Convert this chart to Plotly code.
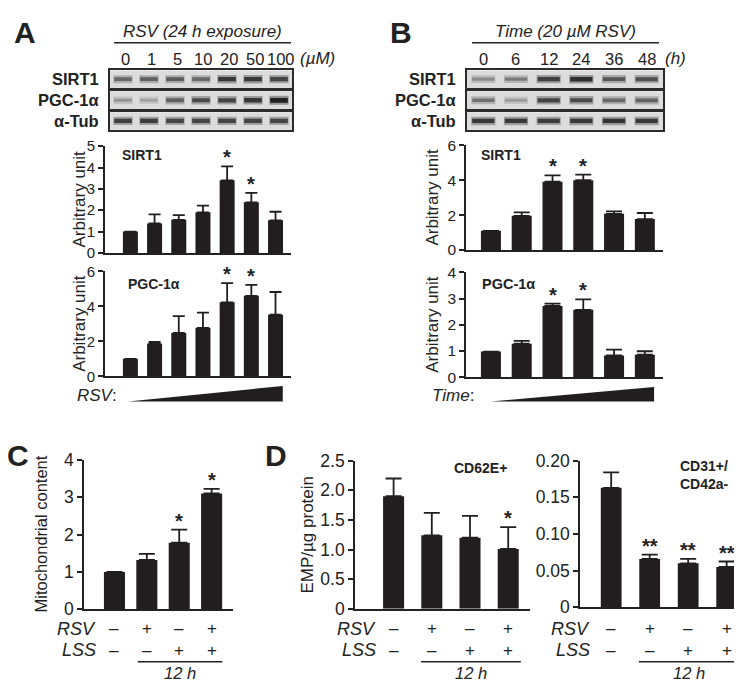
import plotly.graph_objects as go

W, H = 742, 687
FONT = "Arial, 'Liberation Sans', Helvetica, sans-serif"
BAR = "#221e1f"
INK = "#222222"


def px(x):
    return x / W


def py(y):
    return 1 - y / H


# ---------------- data ----------------
a_doses = ["0", "1", "5", "10", "20", "50", "100"]
a_sirt1 = [1.0, 1.38, 1.55, 1.9, 3.4, 2.37, 1.53]
a_sirt1_err = [0, 0.43, 0.22, 0.32, 0.65, 0.44, 0.4]
a_sirt1_sig = ["", "", "", "", "*", "*", ""]
a_pgc = [1.0, 1.87, 2.48, 2.77, 4.23, 4.6, 3.52]
a_pgc_err = [0, 0.1, 0.96, 0.87, 1.1, 0.63, 1.3]
a_pgc_sig = ["", "", "", "", "*", "*", ""]

b_times = ["0", "6", "12", "24", "36", "48"]
b_sirt1 = [1.1, 1.96, 3.91, 4.0, 2.07, 1.77]
b_sirt1_err = [0, 0.2, 0.36, 0.32, 0.14, 0.35]
b_sirt1_sig = ["", "", "*", "*", "", ""]
b_pgc = [0.98, 1.28, 2.72, 2.57, 0.83, 0.86]
b_pgc_err = [0, 0.11, 0.09, 0.4, 0.22, 0.13]
b_pgc_sig = ["", "", "*", "*", "", ""]

c_mito = [1.0, 1.32, 1.78, 3.1]
c_mito_err = [0, 0.16, 0.35, 0.12]
c_sig = ["", "", "*", "*"]

d_cd62e = [1.9, 1.24, 1.2, 1.01]
d_cd62e_err = [0.3, 0.38, 0.37, 0.37]
d_cd62e_sig = ["", "", "", "*"]
d_cd31 = [0.163, 0.066, 0.060, 0.055]
d_cd31_err = [0.021, 0.006, 0.006, 0.0075]
d_cd31_sig = ["", "**", "**", "**"]

rsv_row = ["–", "+", "–", "+"]
lss_row = ["–", "–", "+", "+"]

# western blot band intensities (0 = none, 1 = darkest), read by eye
a_blot_rows = ["SIRT1", "PGC-1α", "α-Tub"]
a_blot = [
    [0.55, 0.6, 0.62, 0.55, 0.82, 0.82, 0.75],
    [0.3, 0.22, 0.6, 0.72, 0.75, 0.82, 0.95],
    [0.78, 0.8, 0.75, 0.75, 0.75, 0.75, 0.75],
]
b_blot_rows = ["SIRT1", "PGC-1α", "α-Tub"]
b_blot = [
    [0.35, 0.45, 0.78, 0.88, 0.65, 0.68],
    [0.5, 0.25, 0.75, 0.72, 0.55, 0.58],
    [0.82, 0.82, 0.8, 0.82, 0.85, 0.82],
]

fig = go.Figure()
layout = {}
annotations = []
shapes = []
counter = [0]


def new_axes(xl, xr, yt, yb, xrange, yrange, xkw=None, ykw=None):
    counter[0] += 1
    k = counter[0]
    sx = "" if k == 1 else str(k)
    xa = dict(domain=[px(xl), px(xr)], range=xrange, anchor="y" + sx,
              showgrid=False, zeroline=False, fixedrange=True)
    ya = dict(domain=[py(yb), py(yt)], range=yrange, anchor="x" + sx,
              showgrid=False, zeroline=False, fixedrange=True)
    if xkw:
        xa.update(xkw)
    if ykw:
        ya.update(ykw)
    layout["xaxis" + sx] = xa
    layout["yaxis" + sx] = ya
    return "x" + sx, "y" + sx


def blot_row(xl, xr, yt, yb, intens):
    n = len(intens)
    xr_, yr_ = new_axes(
        xl, xr, yt, yb, [-0.5, n - 0.5], [0, 1],
        xkw=dict(showline=True, mirror=True, linewidth=2, linecolor="#2b2b2b",
                 showticklabels=False, ticks=""),
        ykw=dict(showline=True, mirror=True, linewidth=2, linecolor="#2b2b2b",
                 showticklabels=False, ticks=""))
    shapes.append(dict(type="rect", xref=xr_ + " domain", yref=yr_ + " domain",
                       x0=0, x1=1, y0=0, y1=1, fillcolor="#dcdcdc",
                       line=dict(width=0), layer="below"))
    halo_c = ["rgb({0},{0},{0})".format(int(214 - 70 * v)) for v in intens]
    core_c = ["rgb({0},{0},{0})".format(int(200 - 175 * v)) for v in intens]
    halo_h = [0.40 + 0.1 * v for v in intens]
    core_h = [0.13 + 0.14 * v for v in intens]
    fig.add_trace(go.Bar(x=list(range(n)), y=halo_h, base=[0.5 - h / 2 for h in halo_h],
                         width=0.74, marker=dict(color=halo_c, line=dict(width=0)),
                         xaxis=xr_, yaxis=yr_, hoverinfo="skip"))
    fig.add_trace(go.Bar(x=list(range(n)), y=core_h, base=[0.5 - h / 2 for h in core_h],
                         width=0.68, marker=dict(color=core_c, line=dict(width=0)),
                         xaxis=xr_, yaxis=yr_, hoverinfo="skip"))
    return xr_, yr_


def bar_chart(xl, xr, yt, yb, xrange, yrange, vals, errs, sigs, bw, cap,
              tickvals, ticktext, tfs):
    xr_, yr_ = new_axes(
        xl, xr, yt, yb, xrange, yrange,
        xkw=dict(showline=True, linewidth=1.6, linecolor=INK, ticks="",
                 showticklabels=False),
        ykw=dict(showline=True, linewidth=1.6, linecolor=INK, ticks="outside",
                 ticklen=5, tickwidth=1.5, tickcolor=INK, tickvals=tickvals,
                 ticktext=ticktext, tickfont=dict(family=FONT, size=tfs, color=INK)))
    n = len(vals)
    fig.add_trace(go.Bar(
        x=list(range(n)), y=vals, width=bw,
        marker=dict(color=BAR, line=dict(width=0)),
        error_y=dict(type="data", array=errs, arrayminus=[0] * n, symmetric=False,
                     color=BAR, thickness=1.8, width=cap),
        xaxis=xr_, yaxis=yr_, hoverinfo="skip"))
    for i, s in enumerate(sigs):
        if s:
            annotations.append(dict(x=i, y=vals[i] + errs[i], xref=xr_, yref=yr_,
                                    text="<b>" + s + "</b>", showarrow=False,
                                    yanchor="bottom", yshift=-4,
                                    font=dict(family=FONT, size=20, color=INK)))
    return xr_, yr_


def txt(x, y, text, size=17, xanchor="center", angle=0, yanchor="middle", **kw):
    d = dict(x=px(x), y=py(y), xref="paper", yref="paper", text=text,
             showarrow=False, xanchor=xanchor, yanchor=yanchor, textangle=angle,
             font=dict(family=FONT, size=size, color=INK))
    d.update(kw)
    annotations.append(d)


rows_px = [(54, 72), (75.5, 94), (97, 115)]

# ---------------- panel A ----------------
txt(17, 15, "<b>A</b>", size=30)
txt(194, 14, "<i>RSV (24 h exposure)</i>", size=17)
shapes.append(dict(type="line", xref="paper", yref="paper", x0=px(106), x1=px(283),
                   y0=py(25.5), y1=py(25.5), line=dict(color=INK, width=1.5)))
first = None
for r, (yt, yb) in enumerate(rows_px):
    xa, ya = blot_row(102, 284, yt, yb, a_blot[r])
    if first is None:
        first = xa
    txt(93, (yt + yb) / 2, "<b>" + a_blot_rows[r] + "</b>", size=16.5, xanchor="right")
for i, lab in enumerate(a_doses):
    annotations.append(dict(x=i, y=py(42), xref=first, yref="paper", text=lab,
                            showarrow=False, yanchor="middle", xshift=2,
                            font=dict(family=FONT, size=16.5, color=INK)))
txt(309, 42, "<i>(µM)</i>", size=17)

xa, ya = bar_chart(97, 283, 132, 242, [-1.05, 6.64], [0, 5], a_sirt1, a_sirt1_err,
                   a_sirt1_sig, 0.62, 6, [0, 1, 2, 3, 4, 5], ["0", "1", "2", "3", "4", "5"], 15)
txt(134, 141, "<b>SIRT1</b>", size=14)
txt(72, 187, "Arbitrary unit", size=17, angle=-90)
xa, ya = bar_chart(97, 283, 261, 369, [-1.05, 6.64], [0, 6], a_pgc, a_pgc_err,
                   a_pgc_sig, 0.62, 6, [0, 2, 4, 6], ["0", "2", "4", "6"], 15)
txt(146, 274, "<b>PGC-1α</b>", size=14)
txt(72, 315, "Arbitrary unit", size=17, angle=-90)
txt(111, 389, "<i>RSV</i>:", size=17, xanchor="right")
shapes.append(dict(type="path", xref=xa, yref="paper",
                   path="M -0.1,{b} L 6.3,{t} L 6.3,{b} Z".format(b=py(395), t=py(379)),
                   fillcolor=BAR, line=dict(width=0)))

# ---------------- panel B ----------------
txt(393, 15, "<b>B</b>", size=30)
txt(557, 14, "<i>Time (20 µM RSV)</i>", size=17)
shapes.append(dict(type="line", xref="paper", yref="paper", x0=px(464), x1=px(651),
                   y0=py(25.5), y1=py(25.5), line=dict(color=INK, width=1.5)))
first = None
for r, (yt, yb) in enumerate(rows_px):
    xa, ya = blot_row(459, 655, yt, yb, b_blot[r])
    if first is None:
        first = xa
    txt(450, (yt + yb) / 2, "<b>" + b_blot_rows[r] + "</b>", size=16.5, xanchor="right")
for i, lab in enumerate(b_times):
    annotations.append(dict(x=i, y=py(42), xref=first, yref="paper", text=lab,
                            showarrow=False, yanchor="middle",
                            font=dict(family=FONT, size=16.5, color=INK)))
txt(667, 42, "<i>(h)</i>", size=17)

xa, ya = bar_chart(458, 655, 131, 239, [-0.81, 5.59], [0, 6], b_sirt1, b_sirt1_err,
                   b_sirt1_sig, 0.65, 8, [0, 2, 4, 6], ["0", "2", "4", "6"], 15.5)
txt(493, 141, "<b>SIRT1</b>", size=14)
txt(425, 185, "Arbitrary unit", size=17, angle=-90)
xa, ya = bar_chart(458, 655, 262, 370, [-0.81, 5.59], [0, 4], b_pgc, b_pgc_err,
                   b_pgc_sig, 0.65, 8, [0, 1, 2, 3, 4], ["0", "1", "2", "3", "4"], 15.5)
txt(500, 274, "<b>PGC-1α</b>", size=14.5)
txt(425, 316, "Arbitrary unit", size=17, angle=-90)
txt(468, 389, "<i>Time</i>:", size=17, xanchor="right")
shapes.append(dict(type="path", xref=xa, yref="paper",
                   path="M -0.0,{b} L 5.3,{t} L 5.3,{b} Z".format(b=py(395), t=py(380)),
                   fillcolor=BAR, line=dict(width=0)))

# ---------------- panel C ----------------
txt(10, 451, "<b>C</b>", size=30)
xa, ya = bar_chart(76, 225, 455, 609, [-0.94, 3.66], [0, 4], c_mito, c_mito_err,
                   c_sig, 0.65, 8, [0, 1, 2, 3, 4], ["0", "1", "2", "3", "4"], 17.5)
txt(33, 532, "Mitochondrial content", size=16.5, angle=-90)


def sign_rows(xa, label_right, n):
    txt(label_right, 629, "<i>RSV</i>", size=18, xanchor="right")
    txt(label_right, 651, "<i>LSS</i>", size=18, xanchor="right")
    for i in range(n):
        for y, row in ((629, rsv_row), (651, lss_row)):
            annotations.append(dict(x=i, y=py(y), xref=xa, yref="paper", text=row[i],
                                    showarrow=False, yanchor="middle",
                                    font=dict(family=FONT, size=17, color=INK)))
    shapes.append(dict(type="line", xref=xa, yref="paper", x0=0.72, x1=3.33,
                       y0=py(663), y1=py(663), line=dict(color=INK, width=1.5)))
    annotations.append(dict(x=2.02, y=py(675), xref=xa, yref="paper", text="<i>12 h</i>",
                            showarrow=False, yanchor="middle",
                            font=dict(family=FONT, size=16.5, color=INK)))


sign_rows(xa, 90, 4)

# ---------------- panel D ----------------
txt(268, 451, "<b>D</b>", size=30)
xa, ya = bar_chart(347, 522, 456, 608.5, [-1.01, 3.57], [0, 2.5], d_cd62e, d_cd62e_err,
                   d_cd62e_sig, 0.55, 8, [0, 0.5, 1.0, 1.5, 2.0, 2.5],
                   ["0", "0.5", "1.0", "1.5", "2.0", "2.5"], 17.5)
txt(473, 463, "<b>CD62E+</b>", size=14)
txt(300, 532, "EMP/µg protein", size=17, angle=-90)
sign_rows(xa, 370, 4)

xa, ya = bar_chart(572, 741, 456, 607, [-0.81, 3.58], [0, 0.20], d_cd31, d_cd31_err,
                   d_cd31_sig, 0.54, 8, [0, 0.05, 0.10, 0.15, 0.20],
                   ["0", "0.05", "0.10", "0.15", "0.20"], 17.5)
txt(670, 471, "<b>CD31+/<br>CD42a-</b>", size=14, xanchor="left", align="left")
sign_rows(xa, 584, 4)

layout.update(dict(
    width=W, height=H, margin=dict(l=0, r=0, t=0, b=0),
    paper_bgcolor="white", plot_bgcolor="white", showlegend=False,
    barmode="overlay", hovermode=False,
    annotations=annotations, shapes=shapes,
    font=dict(family=FONT, color=INK),
))
fig.update_layout(**layout)
fig.write_html("out.html")
